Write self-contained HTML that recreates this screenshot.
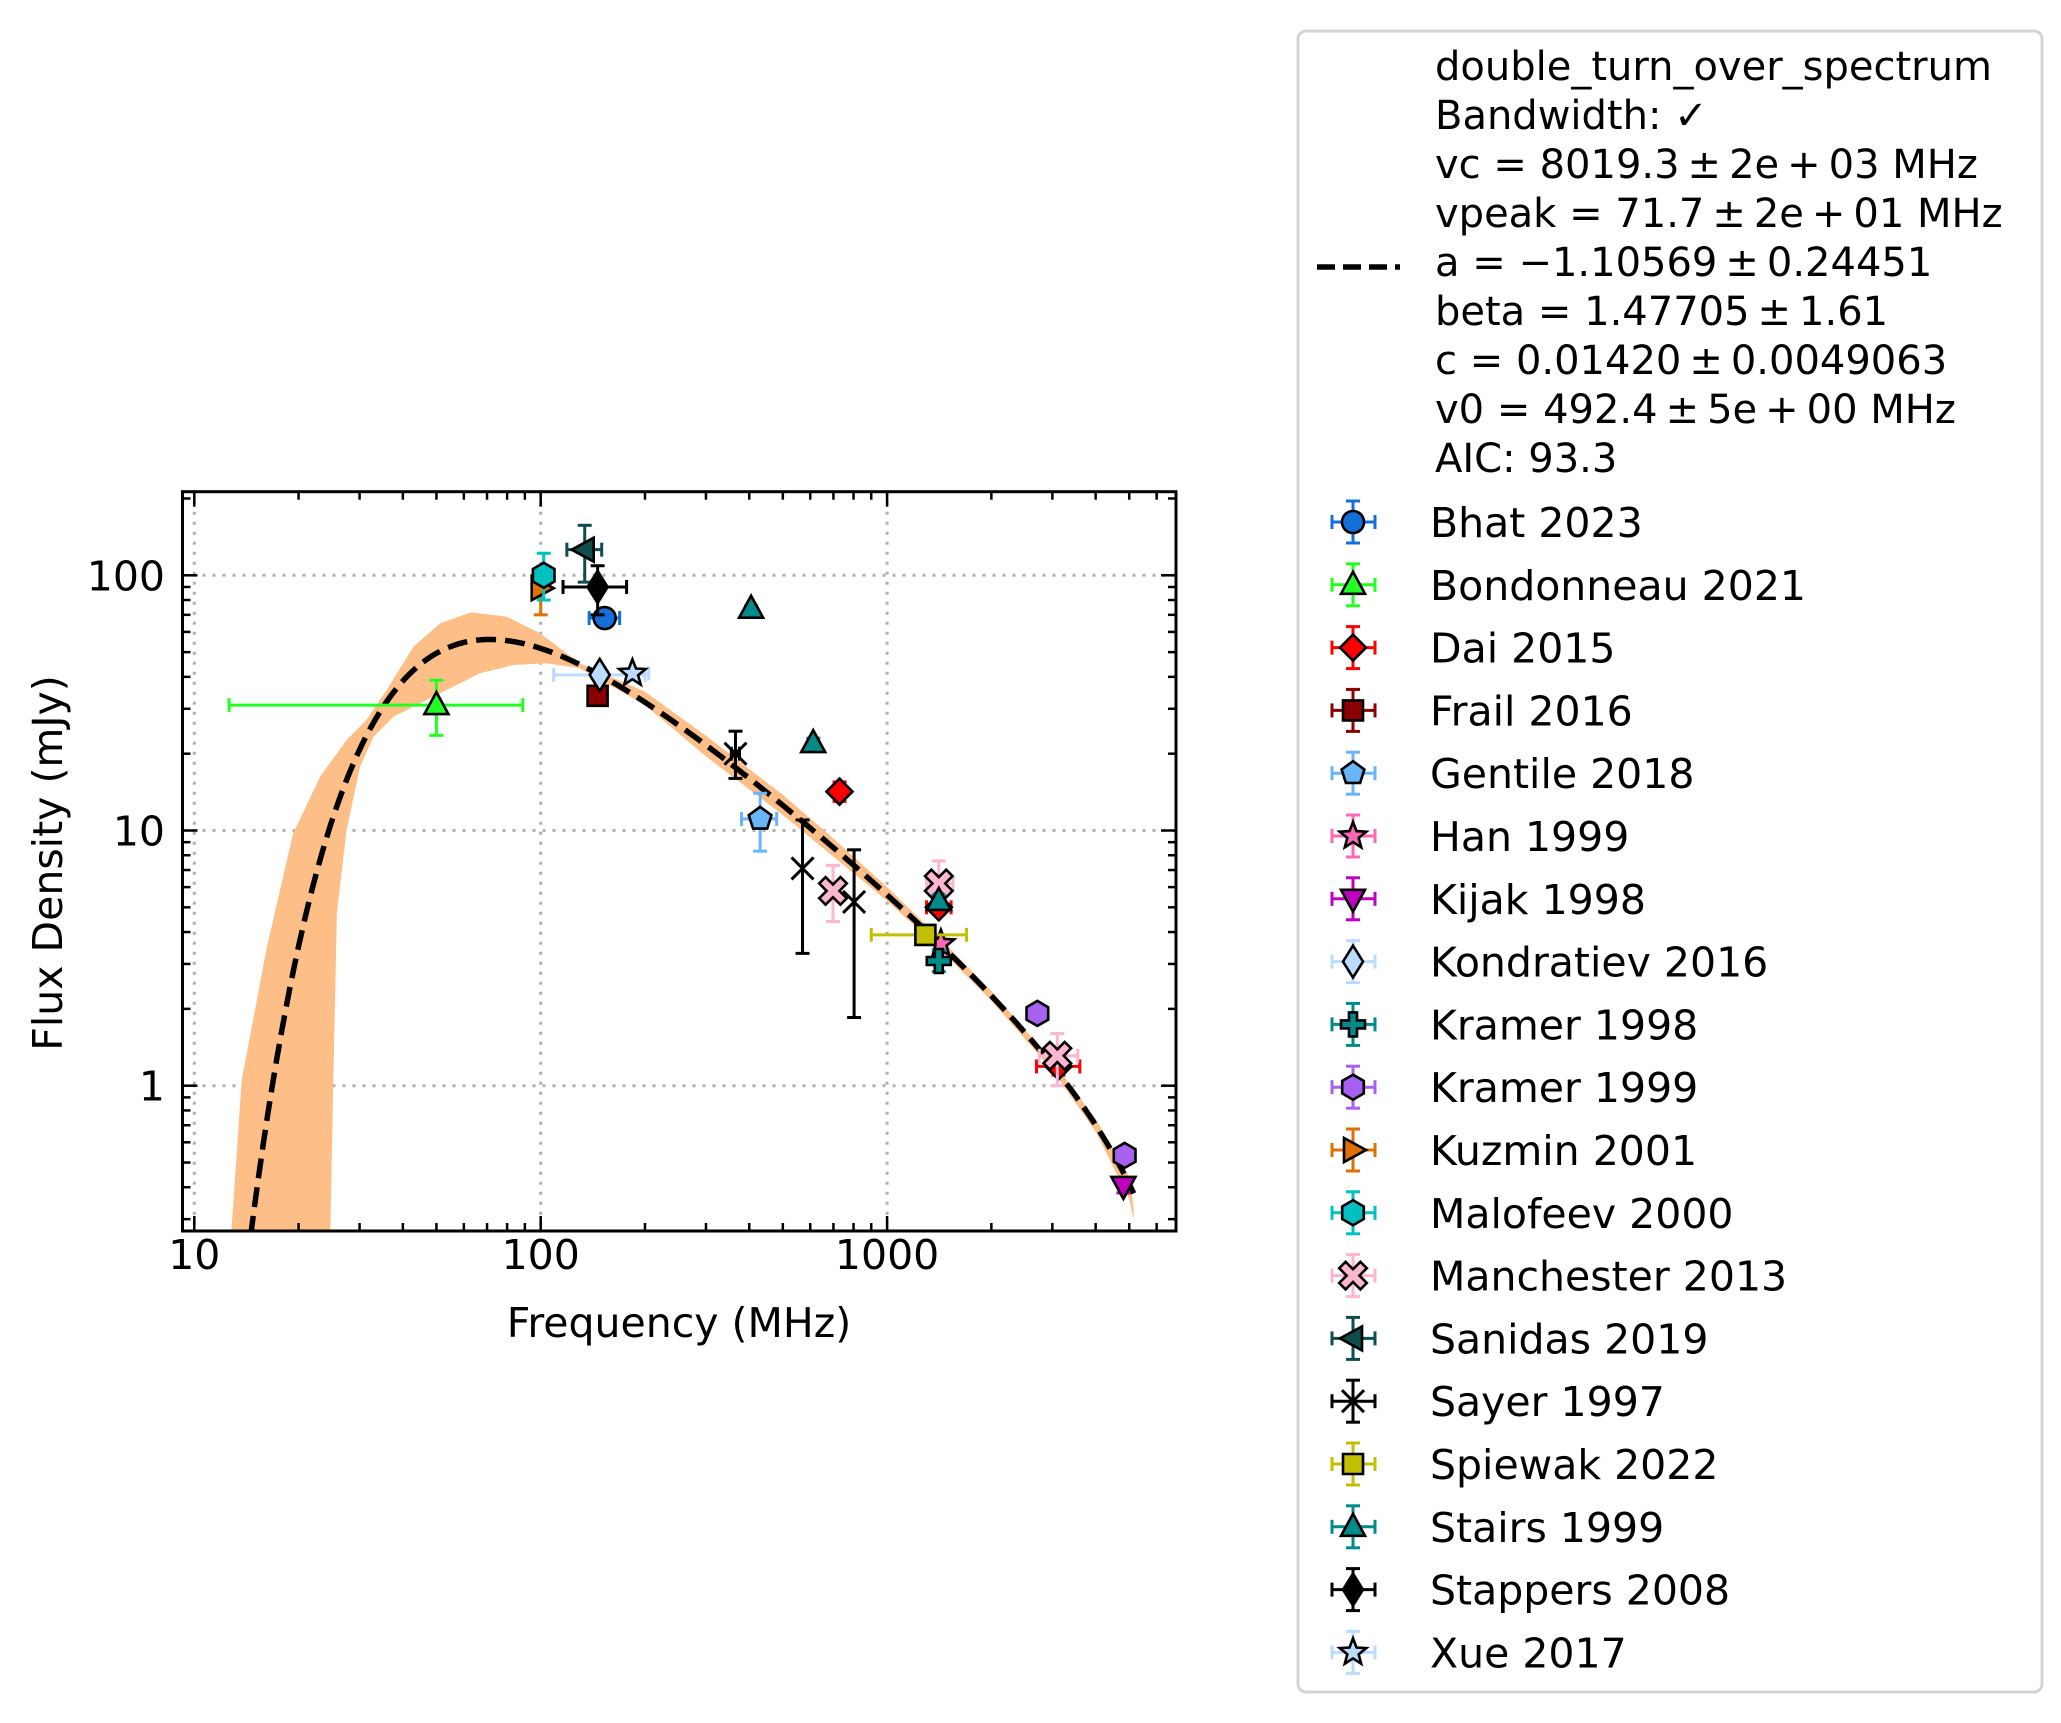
<!DOCTYPE html>
<html><head><meta charset="utf-8"><style>
html,body{margin:0;padding:0;background:#fff;}
svg{display:block;font-family:"DejaVu Sans","Liberation Sans",sans-serif;}
</style></head><body>
<svg id="chart" xmlns="http://www.w3.org/2000/svg" width="2061" height="1723" viewBox="0 0 2061 1723">
<defs><clipPath id="plotclip"><rect x="183" y="492" width="993" height="739"/></clipPath></defs>
<rect x="0" y="0" width="2061" height="1723" fill="#fff"/>
<g id="grid"></g>
<g id="plot" clip-path="url(#plotclip)"></g>
<g id="axes"></g>
<g id="legend"></g>
</svg>
<script>
// ---- data ----
const names = ["Bhat 2023","Bondonneau 2021","Dai 2015","Frail 2016","Gentile 2018","Han 1999","Kijak 1998","Kondratiev 2016","Kramer 1998","Kramer 1999","Kuzmin 2001","Malofeev 2000","Manchester 2013","Sanidas 2019","Sayer 1997","Spiewak 2022","Stairs 1999","Stappers 2008","Xue 2017"];
const colors = ["#1470d8","#22ff22","#ff0000","#8b0000","#6ab4f8","#ff69b4","#c000c0","#bcdcff","#008b8b","#a860f0","#e07000","#00c0c0","#ffb6d0","#0f4d4d","#000000","#c0c000","#008b8b","#000000","#bcdcff"];
const markers = ["o","^","D","s","p","*","v","d","P","h",">","h","X","<","x","s","^","d2","*"];
const freqs = [[153],[50],[729,1410,3125],[146],[430],[1430],[4810],[148],[1410],[2715,4850],[100],[102],[698,1410,3100],[134],[365,570,803],[1290],[405,612,1410],[146],[184]];
const fluxes = [[68],[31],[14.2,5.0,1.19],[33.7],[11.1],[3.6],[0.405],[40.7],[3.08],[1.92,0.533],[89],[100],[5.8,6.2,1.31],[126],[20,7.1,5.25],[3.9],[74,22,5.3],[90],[41.3]];
const fluxLo = [[65],[23.6],[13,4.7,1.1],[31],[8.3],[3.3],[0.38],[39],[2.8],[1.85,0.51],[70],[80],[4.4,5.0,1.0],[94],[16,3.3,1.85],[3.7],[72,21,5.0],[70],[40]];
const fluxHi = [[71],[38.8],[15.5,5.3,1.28],[36],[14],[3.9],[0.43],[42.5],[3.4],[2.0,0.56],[95],[122],[7.3,7.6,1.6],[157],[24.5,11,8.4],[4.1],[76,23,5.6],[109],[42.5]];
const freqLo = [[138],[12.6],[729,1300,2700],[146],[380],[1430],[4810],[109],[1410],[2715,4850],[100],[102],[698,1300,2750],[119],[355,570,803],[900],[405,612,1410],[116],[184]];
const freqHi = [[169],[88.8],[729,1530,3600],[146],[480],[1430],[4810],[200],[1410],[2715,4850],[100],[102],[698,1550,3550],[150],[375,570,803],[1695],[405,612,1410],[177],[205]];
// fit parameters: vc, vpeak, a, beta, c(Jy), v0
const fitParams = [8019.3, 71.7, -1.10569, 1.47705, 0.01420, 492.4];
// uncertainty band
const bandHiFreq = [12.6,13.7,16.2,19.3,23.1,27.5,31.4,35.9,42.9,51.3,63,79.8,99.5,129.6,200,300,500,700,1000,1400,2000,3000,4000,5000,5150];
const bandHiFlux = [0.2,1.05,3.5,9.75,16.3,22.6,27.1,35.5,52.5,64.9,71.6,68.8,59.3,45.2,35,23.5,13.8,9.3,6.0,3.85,2.35,1.25,0.74,0.44,0.33];
const bandLoFreq = [24.6,25.2,25.8,27.5,30.1,32.9,37.6,48.9,66.8,83.4,104,129.6,200,300,500,700,1000,1400,2000,3000,4000,5000,5150];
const bandLoFlux = [0.2,1.05,4.74,10.0,17.8,23.3,27.9,33.4,41.3,44.5,45.2,43.2,31,19.5,11.5,7.9,5.3,3.5,2.15,1.15,0.66,0.36,0.3];
const xTicks = [10,100,1000];
const yTicks = [1,10,100];
const xTickLabels = ["10","100","1000"];
const yTickLabels = ["1","10","100"];
const fitText = ["double_turn_over_spectrum","Bandwidth: \u2713","vc = 8019.3\u2009\u00b1\u20092e\u2009+\u200903 MHz","vpeak = 71.7\u2009\u00b1\u20092e\u2009+\u200901 MHz","a = \u22121.10569\u2009\u00b1\u20090.24451","beta = 1.47705\u2009\u00b1\u20091.61","c = 0.01420\u2009\u00b1\u20090.0049063","v0 = 492.4\u2009\u00b1\u20095e\u2009+\u200900 MHz","AIC: 93.3"];

// ---- axes ----
const AX = {l:182.5, r:1176, t:491.7, b:1231};
function X(f){ return 194.3 + (Math.log10(f)-1)*346.4; }
function Y(s){ return 575.3 + (2-Math.log10(s))*255.2; }
const NS = "http://www.w3.org/2000/svg";
function el(tag, attrs, parent){ const e=document.createElementNS(NS,tag); for(const k in attrs) e.setAttribute(k,attrs[k]); if(parent) parent.appendChild(e); return e; }
const grid=document.getElementById('grid'), plot=document.getElementById('plot'), axes=document.getElementById('axes'), legend=document.getElementById('legend');

// grid
xTicks.forEach(t=>{ const g=el('line',{x1:X(t),x2:X(t),y1:AX.t,y2:AX.b,stroke:'#b0b0b0','stroke-width':3,'stroke-dasharray':'3,7'},grid);
  });
yTicks.forEach(t=>{ const g=el('line',{x1:AX.l,x2:AX.r,y1:Y(t),y2:Y(t),stroke:'#b0b0b0','stroke-width':3,'stroke-dasharray':'3,7'},grid);
  });

// band
(function(){
  let d='';
  bandHiFreq.forEach((f,i)=>{ d += (i?'L':'M')+X(f).toFixed(1)+','+Y(bandHiFlux[i]).toFixed(1); });
  for(let i=bandLoFreq.length-1;i>=0;i--) d += 'L'+X(bandLoFreq[i]).toFixed(1)+','+Y(bandLoFlux[i]).toFixed(1);
  d+='Z';
  const p=el('path',{d:d,fill:'#fdbf87',stroke:'none'},plot);
   
})();
// fit curve
function model(v){ const [vc,vp,a,b,c,v0]=fitParams; return 1000*c*Math.pow(v/v0,a)*(1-v/vc)*Math.exp(a/b*Math.pow(v/vp,-b)); }
(function(){
  let d=''; const n=400, f0=Math.log10(13), f1=Math.log10(5150);
  for(let i=0;i<=n;i++){ const v=Math.pow(10,f0+(f1-f0)*i/n); const s=model(v); if(s<=0) continue; d+=(d?'L':'M')+X(v).toFixed(1)+','+Y(s).toFixed(1); }
  const p=el('path',{d:d,fill:'none',stroke:'#000','stroke-width':5.5,'stroke-dasharray':'20,9'},plot);
   
})();

function markerShape(type, cx, cy, color, parent){
  const st={fill:color,stroke:'#000','stroke-width':2.6,'stroke-linejoin':'miter'};
  const r=11; let e;
  const poly=(pts)=>el('polygon',Object.assign({points:pts.map(p=>(cx+p[0]).toFixed(1)+','+(cy+p[1]).toFixed(1)).join(' ')},st),parent);
  const reg=(n,rad,rot)=>{const pts=[];for(let i=0;i<n;i++){const a=rot+i*2*Math.PI/n;pts.push([rad*Math.cos(a),rad*Math.sin(a)]);}return pts;};
  switch(type){
    case 'o': e=el('circle',Object.assign({cx:cx,cy:cy,r:r},st),parent); break;
    case '^': e=poly([[0,-13],[12,9],[-12,9]]); break;
    case 'v': e=poly([[0,13],[12,-9],[-12,-9]]); break;
    case '<': e=poly([[-13,0],[9,-12],[9,12]]); break;
    case '>': e=poly([[13,0],[-9,-12],[-9,12]]); break;
    case 's': e=poly([[-10,-10],[10,-10],[10,10],[-10,10]]); break;
    case 'D': e=poly([[0,-13],[13,0],[0,13],[-13,0]]); break;
    case 'd': case 'd2': e=poly([[0,-16],[10,0],[0,16],[-10,0]]); break;
    case 'p': e=poly(reg(5,12,-Math.PI/2)); break;
    case 'h': e=poly(reg(6,12.5,-Math.PI/2)); break;
    case '*': { const pts=[]; for(let i=0;i<10;i++){const a=-Math.PI/2+i*Math.PI/5; const rr=i%2?6:14; pts.push([rr*Math.cos(a),rr*Math.sin(a)]);} e=poly(pts); break; }
    case 'P': { const a=4,b=12; e=poly([[-a,-b],[a,-b],[a,-a],[b,-a],[b,a],[a,a],[a,b],[-a,b],[-a,a],[-b,a],[-b,-a],[-a,-a]]); break; }
    case 'X': { const a=4.5,b=15; const k=Math.SQRT1_2; const pts=[[-a,-b],[a,-b],[a,-a],[b,-a],[b,a],[a,a],[a,b],[-a,b],[-a,a],[-b,a],[-b,-a],[-a,-a]].map(p=>[(p[0]-p[1])*k,(p[0]+p[1])*k]); e=poly(pts); break; }
    case 'x': e=el('path',{d:`M${cx-11},${cy-11}L${cx+11},${cy+11}M${cx-11},${cy+11}L${cx+11},${cy-11}`,stroke:'#000','stroke-width':3,fill:'none'},parent); break;
  }
  return e;
}
function errBar(x1,y1,x2,y2,color,parent,horiz){
  el('line',{x1:x1,y1:y1,x2:x2,y2:y2,stroke:color,'stroke-width':3},parent);
  const c=7;
  if(horiz){ el('line',{x1:x1,y1:y1-c,x2:x1,y2:y1+c,stroke:color,'stroke-width':3},parent); el('line',{x1:x2,y1:y2-c,x2:x2,y2:y2+c,stroke:color,'stroke-width':3},parent); }
  else { el('line',{x1:x1-c,y1:y1,x2:x1+c,y2:y1,stroke:color,'stroke-width':3},parent); el('line',{x1:x2-c,y1:y2,x2:x2+c,y2:y2,stroke:color,'stroke-width':3},parent); }
}
// data points
names.forEach((nm,si)=>{
  const g=el('g',{},plot);
  
  
  freqs[si].forEach((f,i)=>{
    const cx=X(f), cy=Y(fluxes[si][i]);
    if(freqLo[si][i]!==freqHi[si][i]) errBar(X(freqLo[si][i]),cy,X(freqHi[si][i]),cy,colors[si],g,true);
    errBar(cx,Y(fluxHi[si][i]),cx,Y(fluxLo[si][i]),colors[si],g,false);
    const m=markerShape(markers[si],cx,cy,colors[si],g);
    
    
  });
});

// axes frame + ticks
const frame=el('rect',{x:AX.l,y:AX.t,width:AX.r-AX.l,height:AX.b-AX.t,fill:'none',stroke:'#000','stroke-width':3},axes);
 
for(let dec=0;dec<=4;dec++){ for(let k=1;k<10;k++){ const v=k*Math.pow(10,dec); const x=X(v); if(x<AX.l||x>AX.r) continue; const L=k===1?15:8;
  el('line',{x1:x,x2:x,y1:AX.b,y2:AX.b-L,stroke:'#000','stroke-width':2.5},axes); el('line',{x1:x,x2:x,y1:AX.t,y2:AX.t+L,stroke:'#000','stroke-width':2.5},axes);} }
for(let dec=-1;dec<=2;dec++){ for(let k=1;k<10;k++){ const v=k*Math.pow(10,dec); const y=Y(v); if(y<AX.t||y>AX.b) continue; const L=k===1?15:8;
  el('line',{x1:AX.l,x2:AX.l+L,y1:y,y2:y,stroke:'#000','stroke-width':2.5},axes); el('line',{x1:AX.r,x2:AX.r-L,y1:y,y2:y,stroke:'#000','stroke-width':2.5},axes);} }
xTicks.forEach((t,i)=>{ const tx=el('text',{x:X(t),y:1269,'text-anchor':'middle','font-size':41},axes); tx.textContent=xTickLabels[i];
   });
yTicks.forEach((t,i)=>{ const tx=el('text',{x:165,y:Y(t)+15,'text-anchor':'end','font-size':41},axes); tx.textContent=yTickLabels[i];
   });
const xl=el('text',{x:679,y:1337,'text-anchor':'middle','font-size':41},axes); xl.textContent='Frequency (MHz)';
 
const yl=el('text',{x:0,y:0,'text-anchor':'middle','font-size':41,transform:'translate(62,863) rotate(-90)'},axes); yl.textContent='Flux Density (mJy)';
 

// legend
const lbox=el('rect',{x:1298,y:31,width:744,height:1661,rx:8,fill:'#fff',stroke:'#d4d4d4','stroke-width':3},legend);
 
fitText.forEach((t,i)=>{ const tx=el('text',{x:1435,y:80+49*i,'font-size':40},legend); tx.textContent=t;
   });
const fl=el('line',{x1:1317,x2:1400,y1:267,y2:267,stroke:'#000','stroke-width':5.5,'stroke-dasharray':'18,8'},legend);
 
names.forEach((nm,i)=>{
  const cy=522+62.8*i, cx=1353;
  const g=el('g',{},legend);
  
  
  errBar(1332,cy,1375,cy,colors[i],g,true);
  errBar(cx,cy-21,cx,cy+21,colors[i],g,false);
  markerShape(markers[i],cx,cy,colors[i],g);
  const tx=el('text',{x:1430,y:cy+15,'font-size':41},g); tx.textContent=nm;
});
</script>
</body></html>
